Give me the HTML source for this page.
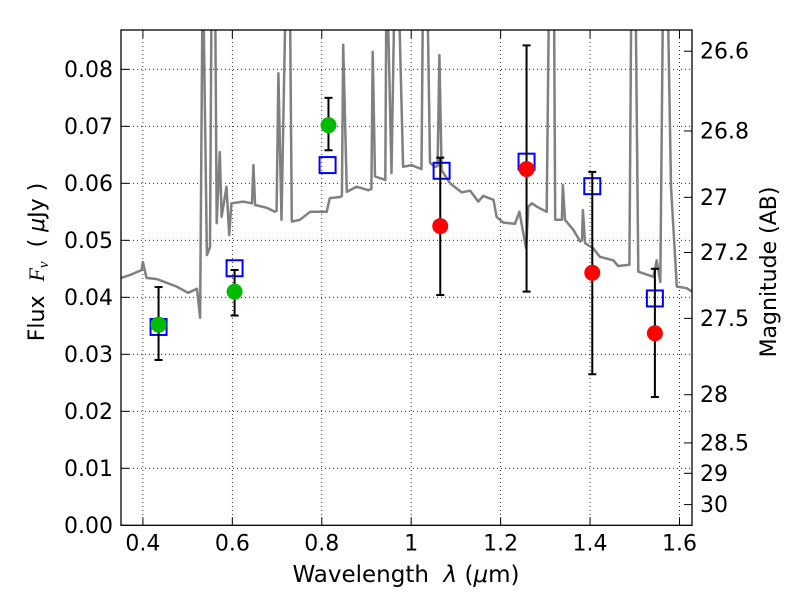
<!DOCTYPE html>
<html><head><meta charset="utf-8"><style>
html,body{margin:0;padding:0;background:#fff;}
svg{display:block;font-family:"DejaVu Sans","Liberation Sans",sans-serif;}
</style></head><body>
<svg id="chart" width="800" height="600" viewBox="0 0 800 600" xmlns="http://www.w3.org/2000/svg">
<rect width="800" height="600" fill="#fff"/>
<defs><clipPath id="clip"><rect x="121" y="30" width="571" height="495"/></clipPath></defs>
<g id="grid"></g>
<g id="spec" clip-path="url(#clip)"></g>
<g id="marks" clip-path="url(#clip)"></g>
<g id="axes"></g>
<text x="406" y="582" font-size="23" text-anchor="middle">Wavelength&#160;&#160;<tspan font-style="italic">λ</tspan> (<tspan font-style="italic">μ</tspan>m)</text>
<text transform="translate(44,262) rotate(-90)" font-size="22" text-anchor="middle">Flux&#160;&#160;<tspan font-family="Liberation Serif, serif" font-style="italic">F<tspan font-size="15" dy="4">ν</tspan></tspan><tspan dy="-4">&#160;&#160;( </tspan><tspan font-style="italic">μ</tspan>Jy )</text>
<text transform="translate(776,272) rotate(-90)" font-size="22" text-anchor="middle">Magnitude (AB)</text>
</svg>
<script>
const specLam=[0.351,0.371,0.397,0.400,0.408,0.431,0.475,0.501,0.521,0.528,0.534,0.543,0.550,0.554,0.561,0.565,0.572,0.576,0.587,0.593,0.598,0.624,0.644,0.647,0.651,0.677,0.695,0.699,0.703,0.710,0.721,0.728,0.733,0.751,0.774,0.811,0.818,0.841,0.845,0.848,0.856,0.878,0.904,0.911,0.914,0.919,0.942,0.945,0.956,0.964,0.970,0.982,1.001,1.023,1.027,1.035,1.042,1.053,1.059,1.063,1.068,1.087,1.113,1.132,1.150,1.161,1.184,1.191,1.206,1.232,1.242,1.257,1.262,1.270,1.281,1.303,1.309,1.319,1.322,1.333,1.337,1.339,1.344,1.363,1.378,1.382,1.384,1.389,1.407,1.422,1.452,1.463,1.488,1.493,1.501,1.508,1.542,1.549,1.557,1.564,1.572,1.581,1.594,1.616,1.628];
const specFlux=[0.0434,0.0439,0.0448,0.0462,0.0434,0.0432,0.0419,0.0408,0.0415,0.0364,0.1,0.0474,0.0488,0.1,0.1,0.0530,0.0655,0.0541,0.0594,0.0509,0.0565,0.0568,0.0565,0.0632,0.0562,0.0557,0.0550,0.0552,0.0793,0.0536,0.1,0.1,0.0533,0.0536,0.0550,0.0550,0.0574,0.0576,0.0578,0.0843,0.0585,0.0594,0.0588,0.0590,0.0831,0.0612,0.0606,0.1,0.0618,0.1,0.1,0.0629,0.0632,0.0625,0.1,0.1,0.0636,0.0629,0.0630,0.0825,0.0623,0.0600,0.0584,0.0587,0.0568,0.0578,0.0571,0.0541,0.0531,0.0529,0.0550,0.0486,0.0559,0.0565,0.0559,0.0550,0.1,0.1,0.0536,0.0536,0.0536,0.0597,0.0536,0.0518,0.0498,0.0500,0.0553,0.0495,0.0486,0.0471,0.0465,0.0455,0.0457,0.1,0.1,0.0445,0.0436,0.0465,0.0427,0.1,0.1,0.0594,0.0419,0.0416,0.0410];
const greenLam=[0.435,0.605,0.815];
const greenFlux=[0.0352,0.0410,0.0702];
const greenLo=[0.0290,0.0368,0.0658];
const greenHi=[0.0418,0.0448,0.0750];
const redLam=[1.065,1.258,1.405,1.545];
const redFlux=[0.0525,0.0625,0.0443,0.0337];
const redLo=[0.0404,0.0410,0.0265,0.0225];
const redHi=[0.0645,0.0842,0.0620,0.0450];
const modelLam=[0.435,0.605,0.813,1.068,1.258,1.405,1.545];
const modelFlux=[0.0348,0.0451,0.0632,0.0622,0.0638,0.0595,0.0398];
const xTicks=[0.4,0.6,0.8,1.0,1.2,1.4,1.6];
const xTickLabels=["0.4","0.6","0.8","1","1.2","1.4","1.6"];
const yTicks=[0,0.01,0.02,0.03,0.04,0.05,0.06,0.07,0.08];
const yTickLabels=["0.00","0.01","0.02","0.03","0.04","0.05","0.06","0.07","0.08"];
const magTicks=[26.6,26.8,27,27.2,27.5,28,28.5,29,30];
const magTickLabels=["26.6","26.8","27","27.2","27.5","28","28.5","29","30"];

const L=121,R=692,T=30,B=525.3;
const X0=0.351,X1=1.628,Y0=0,Y1=0.0869;
const sx=v=>L+(v-X0)/(X1-X0)*(R-L);
const sy=v=>B-(v-Y0)/(Y1-Y0)*(B-T);
const magToFlux=m=>Math.pow(10,(23.9-m)/2.5);
const NS="http://www.w3.org/2000/svg";
function mk(tag,attrs,parent){const e=document.createElementNS(NS,tag);for(const k in attrs)e.setAttribute(k,attrs[k]);parent.appendChild(e);return e;}
const grid=document.getElementById('grid'),spec=document.getElementById('spec'),marks=document.getElementById('marks'),axes=document.getElementById('axes');
const FS=22;
xTicks.forEach((t,i)=>{const x=sx(t);
 const g=mk('line',{x1:x,x2:x,y1:T,y2:B,stroke:'#000','stroke-width':0.8,'stroke-dasharray':'1,3'},grid);
 
 
 mk('line',{x1:x,x2:x,y1:B,y2:B-8,stroke:'#000','stroke-width':1},axes);
 mk('line',{x1:x,x2:x,y1:T,y2:T+8,stroke:'#000','stroke-width':1},axes);
 const tx=mk('text',{x:x,y:B+25,'font-size':FS,'text-anchor':'middle'},axes);
 tx.textContent=xTickLabels[i];
 
 
});
yTicks.forEach((t,i)=>{const y=sy(t);
 if(i>0){const g=mk('line',{x1:L,x2:R,y1:y,y2:y,stroke:'#000','stroke-width':0.8,'stroke-dasharray':'1,3'},grid);
 
 }
 mk('line',{x1:L,x2:L+8,y1:y,y2:y,stroke:'#000','stroke-width':1},axes);
 const tx=mk('text',{x:L-8,y:y+7.5,'font-size':FS,'text-anchor':'end'},axes);
 tx.textContent=yTickLabels[i];
 
 
});
magTicks.forEach((m,i)=>{const y=sy(magToFlux(m));
 mk('line',{x1:R,x2:R-8,y1:y,y2:y,stroke:'#000','stroke-width':1},axes);
 const tx=mk('text',{x:R+8,y:y+7.5,'font-size':FS,'text-anchor':'start'},axes);
 tx.textContent=magTickLabels[i];
 
 
});
const fr=mk('rect',{x:L,y:T,width:R-L,height:B-T,fill:'none',stroke:'#000','stroke-width':1.3},axes);



const sp=mk('path',{d:specLam.map((l,i)=>(i?'L':'M')+sx(l).toFixed(1)+','+sy(specFlux[i]).toFixed(1)).join(''),fill:'none',stroke:'#808080','stroke-width':2.5,'stroke-linejoin':'round'},spec);



function errbar(l,lo,hi){const x=sx(l);
 const g=mk('g',{},marks);
 
 
 mk('line',{x1:x,x2:x,y1:sy(lo),y2:sy(hi),stroke:'#000','stroke-width':2},g);
 mk('line',{x1:x-4,x2:x+4,y1:sy(lo),y2:sy(lo),stroke:'#000','stroke-width':2},g);
 mk('line',{x1:x-4,x2:x+4,y1:sy(hi),y2:sy(hi),stroke:'#000','stroke-width':2},g);}
modelLam.forEach((l,i)=>{const s=16;
 const r=mk('rect',{x:sx(l)-s/2,y:sy(modelFlux[i])-s/2,width:s,height:s,fill:'none',stroke:'#0000ff','stroke-width':2},marks);
 
 });
greenLam.forEach((l,i)=>{errbar(l,greenLo[i],greenHi[i]);
 const c=mk('circle',{cx:sx(l),cy:sy(greenFlux[i]),r:8,fill:'#00bb00'},marks);
 
 });
redLam.forEach((l,i)=>{errbar(l,redLo[i],redHi[i]);
 const c=mk('circle',{cx:sx(l),cy:sy(redFlux[i]),r:8,fill:'#ff0000'},marks);
 
 });
</script>
</body></html>
